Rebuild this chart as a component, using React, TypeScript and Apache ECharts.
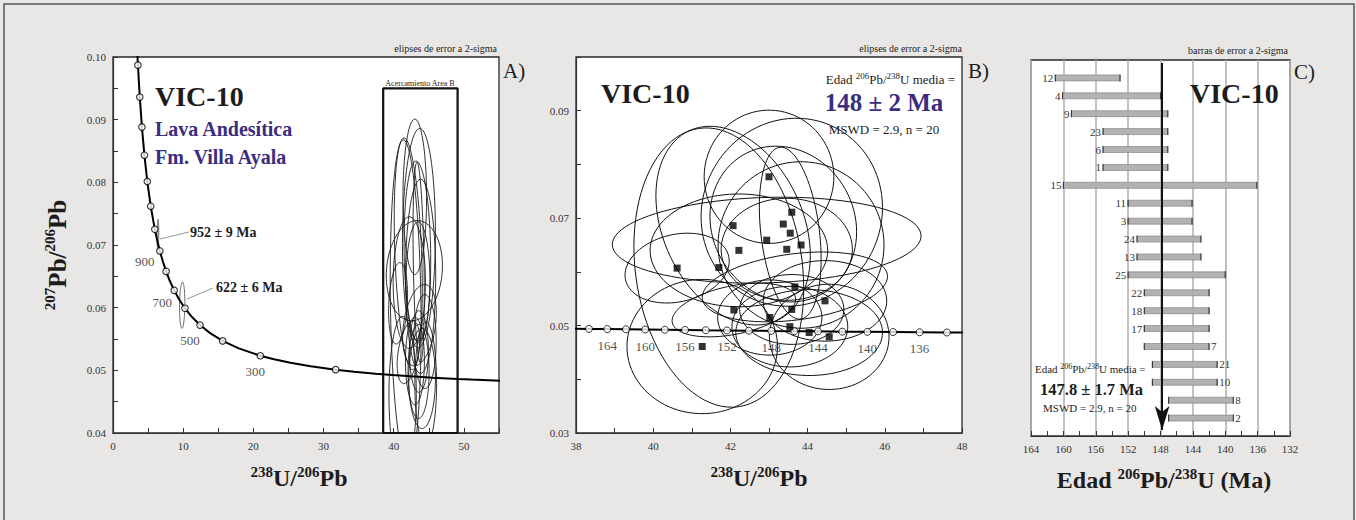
import React, { useEffect, useRef } from "react";
import * as echarts from "echarts";

const FONT = "'Liberation Serif', 'Times New Roman', 'DejaVu Serif', serif";
const PURPLE = "#3a2d80";
const INK = "#1c1c1c";

// ---- Spot analyses (238U/206Pb, 207Pb/206Pb) and 2-sigma ellipse half-axes ----
const spotX = [43.0, 43.59, 43.37, 43.55, 42.07, 42.94, 43.83, 43.46, 42.22, 40.62, 41.7, 43.67, 44.45, 42.09, 43.59, 43.02, 43.54, 44.04, 44.56, 41.27];
const spotY = [0.0777, 0.0711, 0.0689, 0.0672, 0.0686, 0.0659, 0.065, 0.0642, 0.064, 0.0607, 0.0608, 0.0572, 0.0546, 0.0529, 0.053, 0.0515, 0.0498, 0.0487, 0.0479, 0.0461];
const errX = [1.68, 2.35, 1.9, 0.8, 2.0, 4.0, 2.15, 1.7, 2.3, 1.35, 2.2, 2.4, 1.6, 1.6, 1.35, 1.35, 1.5, 1.9, 1.55, 1.95];
const errY = [0.0124, 0.0175, 0.0145, 0.016, 0.0185, 0.008, 0.0155, 0.0095, 0.0105, 0.0065, 0.026, 0.0065, 0.0075, 0.005, 0.0065, 0.007, 0.0075, 0.008, 0.0098, 0.0125];
const errRho = [0, 0.05, -0.1, -0.3, -0.3, 0.1, 0, 0, 0, 0.2, -0.15, 0.3, 0, 0.4, 0, 0, 0, 0, 0, 0];

// Older inherited grains (952 Ma, 622 Ma) in panel A
const oldX = [6.4, 9.86];
const oldY = [0.0716, 0.0604];
const oldErrX = [0.12, 0.38];
const oldErrY = [0.0025, 0.0037];
const oldRho = [0.2, 0.1];

// ---- Concordia, panel A (markers every 100 Ma) ----
const concAAge = [1600, 1500, 1400, 1300, 1200, 1100, 1000, 900, 800, 700, 600, 500, 400, 300, 200];
const concAX = [3.549, 3.817, 4.122, 4.476, 4.888, 5.375, 5.959, 6.674, 7.568, 8.718, 10.252, 12.399, 15.62, 20.99, 31.73];
const concAY = [0.0987, 0.0936, 0.08881, 0.08433, 0.08013, 0.07619, 0.0725, 0.06905, 0.06579, 0.06276, 0.0599, 0.05722, 0.0547, 0.05233, 0.05011];
// extra points along the concordia curve (no marker)
const concAExtraX = [3.314, 6.298, 7.095, 8.105, 9.426, 11.228, 13.831, 17.924, 22.945, 25.29, 28.154, 34.348, 37.42, 39.792, 42.47, 45.548, 49.09, 51.073, 55.56];
const concAExtraY = [0.10418, 0.07074, 0.0674, 0.06425, 0.06131, 0.05854, 0.05594, 0.0535, 0.05176, 0.0512, 0.05065, 0.04979, 0.04947, 0.04926, 0.04904, 0.04883, 0.04863, 0.04853, 0.04832];
const concALabelAges = [900, 700, 500, 300];
const concALabelOffsets = [[-15, 11], [-12, 12], [-10, 15], [-5, 16]];

// ---- Concordia, panel B (markers every 2 Ma) ----
const concBAge = [166, 164, 162, 160, 158, 156, 154, 152, 150, 148, 146, 144, 142, 140, 138, 136, 134];
const concBX = [38.336, 38.81, 39.295, 39.792, 40.302, 40.825, 41.362, 41.912, 42.478, 43.059, 43.656, 44.269, 44.899, 45.548, 46.215, 46.902, 47.609];
const concBY = [0.04938, 0.04934, 0.0493, 0.04926, 0.04922, 0.04918, 0.04913, 0.04909, 0.04905, 0.049, 0.04896, 0.04892, 0.04887, 0.04883, 0.04879, 0.04875, 0.04871];
const concBEndX = [37.874, 48.338];
const concBEndY = [0.04942, 0.04867];

// ---- Panel C: 206Pb/238U ages with 2-sigma bars ----
const grainIds = ["12", "4", "9", "23", "6", "1", "15", "11", "3", "24", "13", "25", "22", "18", "17", "7", "21", "10", "8", "2"];
const ageOld = [161.0, 160.1, 159.0, 155.1, 155.1, 155.1, 160.0, 152.0, 152.0, 150.9, 150.9, 152.0, 150.0, 150.0, 150.0, 150.0, 149.0, 149.0, 147.0, 147.0];
const ageYoung = [153.0, 148.0, 147.1, 147.1, 147.1, 147.1, 136.1, 144.1, 144.1, 143.0, 143.0, 140.0, 142.0, 142.0, 142.0, 142.0, 141.0, 141.0, 139.0, 139.0];
const labelOnRight = ["7", "21", "10", "8", "2"];
const meanAge = 147.8;

// Area B zoom box in panel A
const boxX = [38.5, 49.1];
const boxY = [0.04, 0.095];

function ellipseSeries(xi: number, data: number[][], color: string, lw: number) {
  return {
    type: "custom",
    xAxisIndex: xi,
    yAxisIndex: xi,
    clip: true,
    silent: true,
    z: 2,
    data,
    encode: { x: 0, y: 1 },
    renderItem: (params: any, api: any) => {
      const cx = api.value(0), cy = api.value(1), rx = api.value(2), ry = api.value(3), rho = api.value(4);
      const s = Math.sqrt(1 - rho * rho);
      const pts: number[][] = [];
      const N = 90;
      for (let k = 0; k <= N; k++) {
        const t = (k / N) * Math.PI * 2;
        pts.push(api.coord([cx + rx * Math.cos(t), cy + ry * (rho * Math.cos(t) + s * Math.sin(t))]));
      }
      return { type: "polyline", shape: { points: pts }, style: { fill: "none", stroke: color, lineWidth: lw } };
    },
  };
}

function txt(x: number, y: number, text: string, o: any = {}) {
  const align = o.align || "left";
  return {
    type: "text",
    x,
    y,
    z: 100,
    rotation: o.rotation || 0,
    style: {
      text,
      fontFamily: FONT,
      fontSize: o.fontSize || 12,
      fontWeight: o.fontWeight || "normal",
      fill: o.fill || INK,
      align,
      textAlign: align,
      verticalAlign: "middle",
      textVerticalAlign: "middle",
      rich: o.rich,
    },
  };
}

function supRich(main: number, sup: number, bold: boolean, fill = INK) {
  const fw = bold ? "bold" : "normal";
  return {
    n: { fontSize: main, fontWeight: fw, fontFamily: FONT, lineHeight: Math.round(main * 1.15), fill, color: fill },
    s: { fontSize: sup, fontWeight: fw, fontFamily: FONT, lineHeight: Math.round(sup * 1.1), verticalAlign: "top", fill, color: fill },
  };
}

function buildOption() {
  const axisLineStyle = { color: "#333", width: 1.2 };
  const tick = { show: true, inside: true, length: 5, lineStyle: { color: "#333", width: 1 } };
  const label = { fontFamily: FONT, fontSize: 11, color: "#333", margin: 7 };

  const concALine = concAX
    .map((x, i) => [x, concAY[i]])
    .concat(concAExtraX.map((x, i) => [x, concAExtraY[i]]))
    .sort((a, b) => a[0] - b[0]);
  const concBLine = [[concBEndX[0], concBEndY[0]]]
    .concat(concBX.map((x, i) => [x, concBY[i]]))
    .concat([[concBEndX[1], concBEndY[1]]]);

  const ellData = spotX.map((x, i) => [x, spotY[i], errX[i], errY[i], errRho[i]]);
  const oldData = oldX.map((x, i) => [x, oldY[i], oldErrX[i], oldErrY[i], oldRho[i]]);

  const concAMarkers = concAX.map((x, i) => {
    const li = concALabelAges.indexOf(concAAge[i]);
    const item: any = { value: [x, concAY[i]] };
    if (li >= 0) {
      item.label = {
        show: true,
        position: "inside",
        offset: concALabelOffsets[li],
        formatter: String(concAAge[i]),
        fontFamily: FONT,
        fontSize: 13,
        color: "#222",
      };
    }
    return item;
  });

  const concBMarkers = concBX.map((x, i) => {
    const item: any = { value: [x, concBY[i]] };
    if (concBAge[i] % 4 === 0) {
      item.label = {
        show: true,
        position: "bottom",
        distance: 6,
        formatter: String(concBAge[i]),
        fontFamily: FONT,
        fontSize: 13,
        color: "#222",
      };
    }
    return item;
  });

  const barData = grainIds.map((id, i) => [ageYoung[i], ageOld[i], i, i]);

  const gridBase = { show: true, backgroundColor: "#ffffff", borderColor: "#2a2a2a", borderWidth: 1.3 };

  const xTitle = "{s|238}{n|U/}{s|206}{n|Pb}";
  const yTitle = "{s|207}{n|Pb/}{s|206}{n|Pb}";
  const cTitle = "{n|Edad }{s|206}{n|Pb/}{s|238}{n|U (Ma)}";
  const media = "{n|Edad }{s|206}{n|Pb/}{s|238}{n|U media =}";

  return {
    animation: false,
    backgroundColor: "#e9e7e5",
    grid: [
      { ...gridBase, left: 113, top: 57, width: 386, height: 376 },
      { ...gridBase, left: 576, top: 57, width: 386, height: 376 },
      { ...gridBase, left: 1031, top: 60, width: 259, height: 376 },
    ],
    xAxis: [
      {
        type: "value", gridIndex: 0, min: 0, max: 55, interval: 5,
        axisLine: { show: true, onZero: false, lineStyle: axisLineStyle },
        axisTick: tick, splitLine: { show: false },
        axisLabel: { ...label, formatter: (v: number) => (Math.round(v) % 10 === 0 ? String(Math.round(v)) : "") },
      },
      {
        type: "value", gridIndex: 1, min: 38, max: 48, interval: 1,
        axisLine: { show: true, onZero: false, lineStyle: axisLineStyle },
        axisTick: tick, splitLine: { show: false },
        axisLabel: { ...label, formatter: (v: number) => (Math.round(v) % 2 === 0 ? String(Math.round(v)) : "") },
      },
      {
        type: "value", gridIndex: 2, min: 132, max: 164, interval: 4, inverse: true,
        axisLine: { show: true, onZero: false, lineStyle: axisLineStyle },
        axisTick: tick,
        minorTick: { show: true, splitNumber: 2, length: 5, lineStyle: { color: "#333", width: 1 } },
        splitLine: { show: true, lineStyle: { color: "#b3b3b3", width: 1.6 } },
        axisLabel: { ...label, formatter: (v: number) => String(Math.round(v)) },
      },
    ],
    yAxis: [
      {
        type: "value", gridIndex: 0, min: 0.04, max: 0.1, interval: 0.005,
        axisLine: { show: true, onZero: false, lineStyle: axisLineStyle },
        axisTick: tick, splitLine: { show: false },
        axisLabel: {
          ...label,
          formatter: (v: number) => {
            const k = Math.round(v * 1000);
            return k % 10 === 0 ? (k / 1000).toFixed(2) : "";
          },
        },
      },
      {
        type: "value", gridIndex: 1, min: 0.03, max: 0.1, interval: 0.01,
        axisLine: { show: true, onZero: false, lineStyle: axisLineStyle },
        axisTick: tick, splitLine: { show: false },
        axisLabel: {
          ...label,
          formatter: (v: number) => {
            const k = Math.round(v * 100);
            return k % 2 === 1 && k < 10 ? (k / 100).toFixed(2) : "";
          },
        },
      },
      { type: "value", gridIndex: 2, min: -1, max: 20, inverse: true, show: false },
    ],
    series: [
      // Panel A
      ellipseSeries(0, ellData, "#1a1a1a", 0.9),
      ellipseSeries(0, oldData, "#555", 0.9),
      {
        type: "line", xAxisIndex: 0, yAxisIndex: 0, silent: true, z: 3,
        data: [[boxX[0], boxY[0]], [boxX[0], boxY[1]], [boxX[1], boxY[1]], [boxX[1], boxY[0]], [boxX[0], boxY[0]]],
        showSymbol: false, lineStyle: { color: "#111", width: 2.2 },
      },
      {
        type: "line", xAxisIndex: 0, yAxisIndex: 0, silent: true, z: 4,
        data: concALine, showSymbol: false, smooth: false,
        lineStyle: { color: "#000", width: 2 },
      },
      {
        type: "scatter", xAxisIndex: 0, yAxisIndex: 0, silent: true, z: 5,
        data: concAMarkers, symbol: "circle", symbolSize: 6.5,
        itemStyle: { color: "#fff", borderColor: "#000", borderWidth: 1.1 },
      },
      // Panel B
      ellipseSeries(1, ellData, "#111", 1),
      {
        type: "line", xAxisIndex: 1, yAxisIndex: 1, silent: true, z: 4,
        data: concBLine, showSymbol: false, lineStyle: { color: "#000", width: 2 },
      },
      {
        type: "scatter", xAxisIndex: 1, yAxisIndex: 1, silent: true, z: 5,
        data: concBMarkers, symbol: "circle", symbolSize: 7,
        itemStyle: { color: "#fff", borderColor: "#000", borderWidth: 1 },
      },
      {
        type: "scatter", xAxisIndex: 1, yAxisIndex: 1, silent: true, z: 6,
        data: spotX.map((x, i) => [x, spotY[i]]), symbol: "rect", symbolSize: 7,
        itemStyle: { color: "#000" },
      },
      // Panel C
      {
        type: "custom", xAxisIndex: 2, yAxisIndex: 2, silent: true, z: 3,
        data: barData, encode: { x: [0, 1], y: 2 },
        renderItem: (params: any, api: any) => {
          const young = api.value(0), old = api.value(1), row = api.value(2);
          const id = grainIds[api.value(3)];
          const a = api.coord([old, row]);
          const b = api.coord([young, row]);
          const x0 = Math.min(a[0], b[0]);
          const x1 = Math.max(a[0], b[0]);
          const y = a[1];
          const h = 6;
          const right = labelOnRight.indexOf(id) >= 0;
          const lx = right ? x1 + 2 : x0 - 2;
          const al = right ? "left" : "right";
          return {
            type: "group",
            children: [
              { type: "rect", shape: { x: x0, y: y - h / 2, width: x1 - x0, height: h }, style: { fill: "#b2b2b2", stroke: "#7a7a7a", lineWidth: 0.6 } },
              { type: "line", shape: { x1: x0, y1: y - h / 2 - 0.5, x2: x0, y2: y + h / 2 + 0.5 }, style: { stroke: "#333", lineWidth: 1.1 } },
              { type: "line", shape: { x1: x1, y1: y - h / 2 - 0.5, x2: x1, y2: y + h / 2 + 0.5 }, style: { stroke: "#333", lineWidth: 1.1 } },
              {
                type: "text", x: lx, y,
                style: { text: id, fontFamily: FONT, fontSize: 11, fill: "#333", align: al, textAlign: al, verticalAlign: "middle", textVerticalAlign: "middle" },
              },
            ],
          };
        },
      },
      {
        type: "line", xAxisIndex: 2, yAxisIndex: 2, silent: true, z: 5, data: [],
        markLine: {
          silent: true, animation: false,
          symbol: ["none", "arrow"], symbolSize: [11, 24],
          label: { show: false },
          lineStyle: { color: "#111", width: 2, type: "solid" },
          data: [[{ coord: [meanAge, -0.83] }, { coord: [meanAge, 19.66] }]],
        },
      },
    ],
    graphic: [
      { type: "rect", z: 1, shape: { x: 4, y: 4, width: 1350, height: 540 }, style: { fill: "none", stroke: "#555", lineWidth: 1.5 } },
      // Panel A texts
      txt(497, 48, "elipses de error a 2-sigma", { align: "right", fontSize: 10 }),
      txt(503, 71, "A)", { fontSize: 21 }),
      txt(155, 96, "VIC-10", { fontSize: 28, fontWeight: "bold" }),
      txt(155, 129, "Lava Andesítica", { fontSize: 20, fontWeight: "bold", fill: PURPLE }),
      txt(155, 157, "Fm. Villa Ayala", { fontSize: 20, fontWeight: "bold", fill: PURPLE }),
      txt(420, 83, "Acercamiento Area B", { align: "center", fontSize: 8 }),
      txt(190, 232, "952 ± 9 Ma", { fontSize: 14, fontWeight: "bold" }),
      txt(216, 287, "622 ± 6 Ma", { fontSize: 14, fontWeight: "bold" }),
      { type: "line", z: 100, shape: { x1: 160, y1: 239, x2: 189, y2: 232 }, style: { stroke: "#777", lineWidth: 0.8 } },
      { type: "line", z: 100, shape: { x1: 187, y1: 299, x2: 213, y2: 288 }, style: { stroke: "#777", lineWidth: 0.8 } },
      txt(299, 478, xTitle, { align: "center", rich: supRich(24, 15, true) }),
      txt(57, 255, yTitle, { align: "center", rotation: Math.PI / 2, rich: supRich(25, 15, true) }),
      // Panel B texts
      txt(962, 48, "elipses de error a 2-sigma", { align: "right", fontSize: 10 }),
      txt(968, 71, "B)", { fontSize: 21 }),
      txt(601, 93, "VIC-10", { fontSize: 28, fontWeight: "bold" }),
      txt(955, 79, media, { align: "right", rich: supRich(13, 9, false) }),
      txt(884, 102, "148 ± 2 Ma", { align: "center", fontSize: 25, fontWeight: "bold", fill: PURPLE }),
      txt(884, 129, "MSWD = 2.9, n = 20", { align: "center", fontSize: 13 }),
      txt(759, 478, xTitle, { align: "center", rich: supRich(24, 15, true) }),
      // Panel C texts
      txt(1288, 50, "barras de error a 2-sigma", { align: "right", fontSize: 10 }),
      txt(1294, 72, "C)", { fontSize: 21 }),
      txt(1190, 93, "VIC-10", { fontSize: 28, fontWeight: "bold" }),
      txt(1035, 369, media, { rich: supRich(11, 8, false) }),
      txt(1040, 389, "147.8 ± 1.7 Ma", { fontSize: 16.5, fontWeight: "bold" }),
      txt(1043, 408, "MSWD = 2.9, n = 20", { fontSize: 11 }),
      txt(1164, 480, cTitle, { align: "center", rich: supRich(24, 15, true) }),
    ],
  };
}

export default function App() {
  const ref = useRef<HTMLDivElement>(null);
  useEffect(() => {
    document.body.style.margin = "0";
    const chart = echarts.init(ref.current as HTMLDivElement, undefined, { renderer: "svg" });
    chart.setOption(buildOption() as any);
    return () => chart.dispose();
  }, []);
  return <div ref={ref} style={{ width: 1356, height: 520 }} />;
}
